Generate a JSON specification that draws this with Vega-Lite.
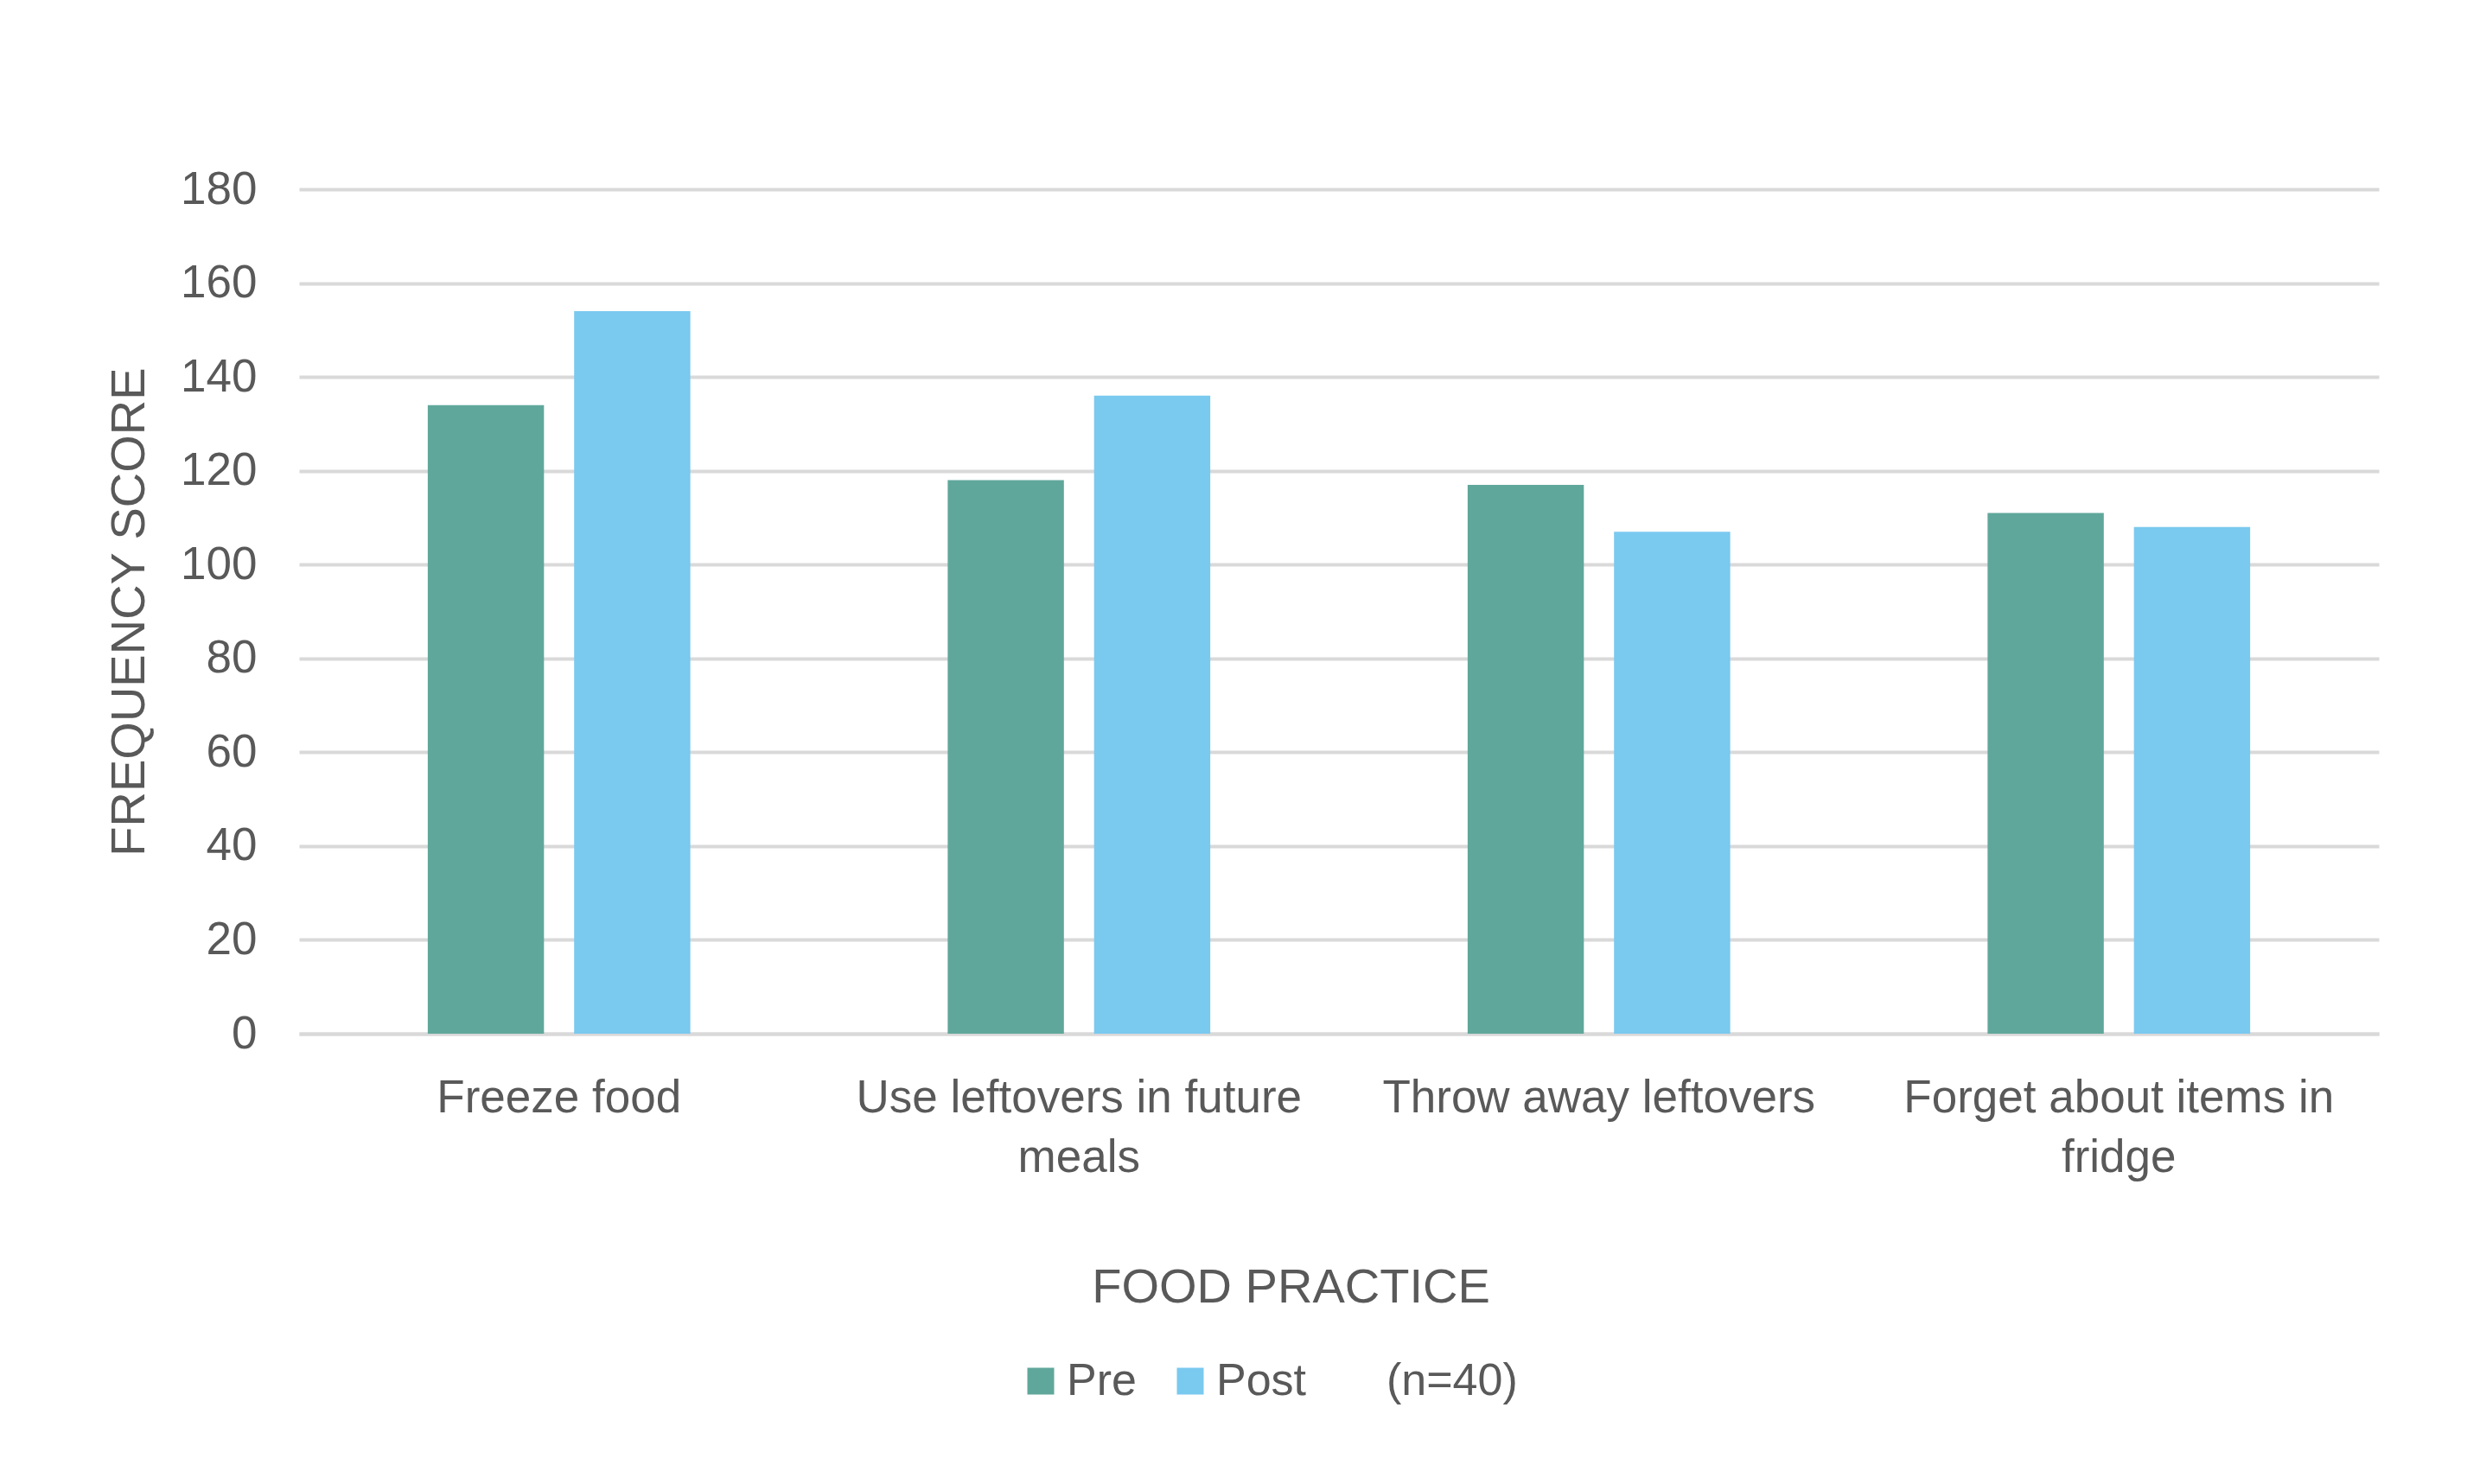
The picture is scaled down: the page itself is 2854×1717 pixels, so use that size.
{
  "$schema": "https://vega.github.io/schema/vega-lite/v6.json",
  "description": "Food practice frequency scores, pre and post (n=40)",
  "autosize": {"type": "none"},
  "padding": {"left": 346, "top": 219, "right": 102, "bottom": 521},
  "width": 2406,
  "height": 977,
  "background": "white",
  "data": {
    "values": [
      {"practice": "Freeze food", "series": "Pre", "score": 134},
      {"practice": "Freeze food", "series": "Post", "score": 154},
      {"practice": "Use leftovers in future meals", "series": "Pre", "score": 118},
      {"practice": "Use leftovers in future meals", "series": "Post", "score": 136},
      {"practice": "Throw away leftovers", "series": "Pre", "score": 117},
      {"practice": "Throw away leftovers", "series": "Post", "score": 107},
      {"practice": "Forget about items in fridge", "series": "Pre", "score": 111},
      {"practice": "Forget about items in fridge", "series": "Post", "score": 108}
    ]
  },
  "config": {
    "font": "Liberation Sans",
    "view": {"stroke": null},
    "axis": {
      "labelColor": "#595959",
      "titleColor": "#595959",
      "labelFont": "Liberation Sans",
      "titleFont": "Liberation Sans",
      "titleFontWeight": "normal"
    }
  },
  "mark": {"type": "bar", "opacity": 1},
  "encoding": {
    "x": {
      "field": "practice",
      "type": "nominal",
      "sort": ["Freeze food", "Use leftovers in future meals", "Throw away leftovers", "Forget about items in fridge"],
      "scale": {"paddingInner": 0.495, "paddingOuter": 0.2475},
      "axis": {
        "title": "FOOD PRACTICE",
        "titleFontSize": 56,
        "titlePadding": 96,
        "titleX": 1147,
        "titleAlign": "center",
        "labelFontSize": 53,
        "labelAngle": 0,
        "labelPadding": 48,
        "labelLineHeight": 69,
        "labelLimit": 0,
        "ticks": false,
        "domainColor": "#d9d9d9",
        "domainWidth": 4,
        "labelExpr": "datum.value == 'Use leftovers in future meals' ? ['Use leftovers in future', 'meals'] : datum.value == 'Forget about items in fridge' ? ['Forget about items in', 'fridge'] : datum.value"
      }
    },
    "xOffset": {
      "field": "series",
      "type": "nominal",
      "sort": ["Pre", "Post"],
      "scale": {"paddingInner": 0.206, "paddingOuter": 0}
    },
    "y": {
      "field": "score",
      "type": "quantitative",
      "scale": {"domain": [0, 180], "nice": false},
      "axis": {
        "title": "FREQUENCY SCORE",
        "titleFontSize": 56,
        "titlePadding": 30,
        "labelFontSize": 53,
        "labelPadding": 49,
        "values": [0, 20, 40, 60, 80, 100, 120, 140, 160, 180],
        "ticks": false,
        "domain": false,
        "gridColor": "#d9d9d9",
        "gridWidth": 4
      }
    },
    "color": {
      "field": "series",
      "type": "nominal",
      "scale": {"domain": ["Pre", "Post", "(n=40)"], "range": ["#60A79B", "#7AC9EF", "transparent"]},
      "legend": {
        "title": null,
        "orient": "none",
        "direction": "horizontal",
        "legendX": 832,
        "legendY": 1353,
        "symbolType": "square",
        "symbolSize": 961,
        "symbolStrokeWidth": 0,
        "labelFontSize": 52,
        "labelColor": "#595959",
        "labelOffset": 4,
        "columnPadding": 36
      }
    }
  }
}
